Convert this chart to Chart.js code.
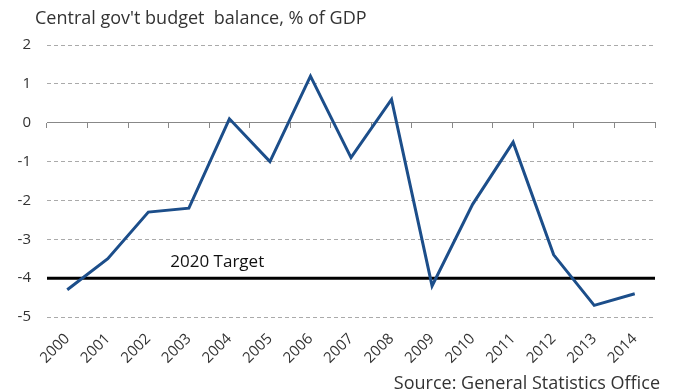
<!DOCTYPE html>
<html>
<head>
<meta charset="utf-8">
<script src="https://cdn.jsdelivr.net/npm/chart.js@4.4.1/dist/chart.umd.min.js"></script>
<style>
  html, body { margin: 0; padding: 0; background: #fff; }
  #wrap { position: relative; width: 676px; height: 391px; font-family: "Open Sans", sans-serif; color: #333; }
  #title { position: absolute; left: 35px; top: 5px; font-size: 18px; line-height: 24px; }
  #source { position: absolute; right: 16px; top: 370px; font-size: 18px; line-height: 24px; }
</style>
</head>
<body>
<div id="wrap">
  <canvas id="chart" width="676" height="391"></canvas>
  <div id="title">Central gov't budget&nbsp; balance, % of GDP</div>
  <div id="source">Source: General Statistics Office</div>
</div>
<script>
var years = ['2000','2001','2002','2003','2004','2005','2006','2007','2008','2009','2010','2011','2012','2013','2014'];
var balance = [-4.3, -3.5, -2.3, -2.2, 0.1, -1.0, 1.2, -0.9, 0.6, -4.2, -2.1, -0.5, -3.4, -4.7, -4.4];
var targetValue = -4;
var targetLabel = '2020 Target';

// draws the target line across the whole plot and its label
var targetPlugin = {
	id: 'target',
	beforeDatasetsDraw: function(chart) {
		var ctx = chart.ctx, area = chart.chartArea;
		var y = chart.scales.y.getPixelForValue(targetValue);
		ctx.save();
		ctx.strokeStyle = '#000';
		ctx.lineWidth = 3;
		ctx.beginPath();
		ctx.moveTo(area.left, y);
		ctx.lineTo(area.right, y);
		ctx.stroke();
		ctx.fillStyle = '#111';
		ctx.font = '17px "Open Sans", sans-serif';
		ctx.textAlign = 'center';
		ctx.textBaseline = 'bottom';
		var xs = chart.scales.x;
		var x = xs.getPixelForValue(3) + 0.7 * (xs.getPixelForValue(4) - xs.getPixelForValue(3));
		ctx.fillText(targetLabel, x, y - 7);
		ctx.restore();
	}
};

new Chart(document.getElementById('chart'), {
	type: 'line',
	data: {
		labels: years,
		datasets: [{
			data: balance,
			borderColor: '#1c4e8a',
			borderWidth: 3,
			pointRadius: 0,
			tension: 0,
			fill: false
		}]
	},
	options: {
		responsive: false,
		animation: false,
		layout: { padding: { left: 0, right: 21, top: 45, bottom: 0 } },
		plugins: { legend: { display: false }, tooltip: { enabled: false } },
		scales: {
			x: {
				type: 'category',
				offset: true,
				position: 'bottom',
				grid: { display: false },
				border: { display: false },
				ticks: {
					color: '#333',
					font: { family: 'Open Sans', size: 15 },
					maxRotation: 45, minRotation: 45,
					padding: 5
				},
				afterFit: function(s) { s.height = 74; }
			},
			x2: {
				type: 'category',
				labels: years,
				offset: true,
				position: { y: 0 },
				grid: { drawOnChartArea: false, drawTicks: true, tickLength: 5, color: '#888', offset: true },
				border: { display: true, color: '#888', width: 1 },
				ticks: { display: false }
			},
			y: {
				min: -5, max: 2,
				ticks: {
					stepSize: 1,
					color: '#333',
					font: { family: 'Open Sans', size: 15 },
					padding: 16
				},
				grid: { color: '#aaa', drawTicks: false, lineWidth: 1 },
				border: { display: false, dash: [4, 3] },
				afterFit: function(s) { s.width = 47; }
			}
		}
	},
	plugins: [targetPlugin]
});
</script>
</body>
</html>
